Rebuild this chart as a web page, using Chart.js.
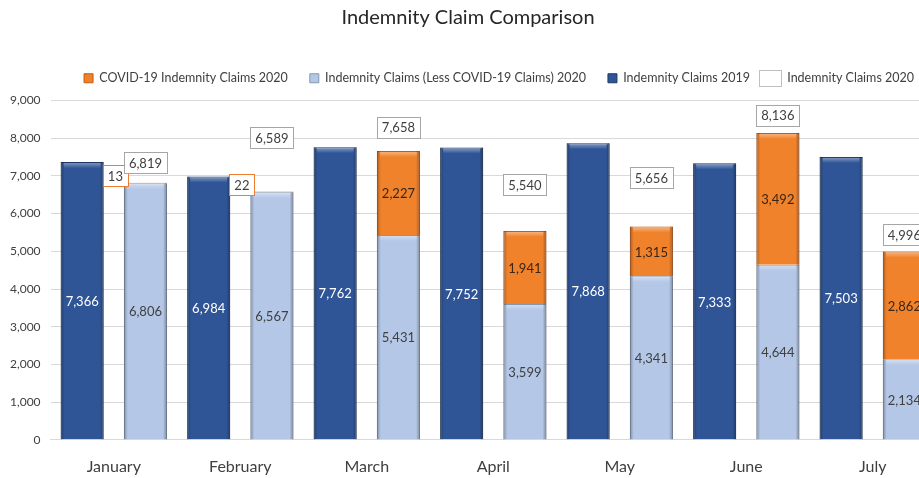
<!DOCTYPE html>
<html>
<head>
<meta charset="utf-8">
<title>Indemnity Claim Comparison</title>
<script src="https://cdn.jsdelivr.net/npm/chart.js@4.4.1/dist/chart.umd.min.js"></script>
<style>
  html, body { margin: 0; padding: 0; background: #fff; overflow: hidden; }
  #wrap { width: 919px; height: 478px; overflow: hidden; }
</style>
</head>
<body>
<div id="wrap"><canvas id="mycanvas" width="940" height="478"></canvas></div>
<script>
// chart data
var months = ['January', 'February', 'March', 'April', 'May', 'June', 'July'];
var claims2019 = [7366, 6984, 7762, 7752, 7868, 7333, 7503];
var lessCovid2020 = [6806, 6567, 5431, 3599, 4341, 4644, 2134];
var covid2020 = [13, 22, 2227, 1941, 1315, 3492, 2862];
var total2020 = [6819, 6589, 7658, 5540, 5656, 8136, 4996];
var yTicks = [0, 1000, 2000, 3000, 4000, 5000, 6000, 7000, 8000, 9000];

// how far (px) each total box sits above its bar, as placed in the original
var totalLift = [20, 54, 24, 46, 49, 18, 17];

var FONT = 'Lato, "Open Sans", sans-serif';
var LEGEND_SIZE = 12.5;

function fmt(v) {
  return Number(v).toLocaleString('en-US');
}

function boxLabel(ctx, txt, cx, cy, stroke) {
  var w = Math.round(ctx.measureText(txt).width + 10);
  var h = 21;
  var x = Math.round(cx - w / 2), y = Math.round(cy - h / 2);
  ctx.fillStyle = '#ffffff';
  ctx.fillRect(x, y, w, h);
  ctx.strokeStyle = stroke;
  ctx.lineWidth = 1;
  ctx.strokeRect(x + 0.5, y + 0.5, w, h);
  ctx.fillStyle = '#404040';
  ctx.fillText(txt, cx, cy + 1);
}

// soft bevel on every bar segment, like the office chart style
function shadeBar(ctx, bar) {
  var left = bar.x - bar.width / 2, right = bar.x + bar.width / 2;
  var h = bar.base - bar.y;
  if (h < 2) return;
  var g = ctx.createLinearGradient(left, 0, right, 0);
  g.addColorStop(0, 'rgba(0,0,0,0.28)');
  g.addColorStop(0.09, 'rgba(0,0,0,0)');
  g.addColorStop(0.91, 'rgba(0,0,0,0)');
  g.addColorStop(1, 'rgba(0,0,0,0.32)');
  ctx.fillStyle = g;
  ctx.fillRect(left, bar.y, bar.width, h);
  var tg = ctx.createLinearGradient(0, bar.y, 0, bar.y + 6);
  tg.addColorStop(0, 'rgba(255,255,255,0.45)');
  tg.addColorStop(1, 'rgba(255,255,255,0)');
  ctx.fillStyle = tg;
  ctx.fillRect(left + 3, bar.y + 1, bar.width - 6, Math.min(6, h - 1));
}

var barLabels = {
  id: 'barLabels',
  afterDatasetsDraw: function(chart) {
    var ctx = chart.ctx;
    var textColors = ['#ffffff', '#404040', '#3a2616'];
    ctx.save();

    [0, 1, 2].forEach(function(di) {
      chart.getDatasetMeta(di).data.forEach(function(bar) {
        shadeBar(ctx, bar);
      });
    });

    ctx.font = '13px ' + FONT;
    ctx.textAlign = 'center';
    ctx.textBaseline = 'middle';

    [0, 1, 2].forEach(function(di) {
      var meta = chart.getDatasetMeta(di);
      meta.data.forEach(function(bar, i) {
        var txt = fmt(chart.data.datasets[di].data[i]);
        var h = bar.base - bar.y;
        if (h < 16) {
          // too thin: boxed label just left of the bar
          var w = ctx.measureText(txt).width + 10;
          var cx = bar.x - bar.width / 2 + 4 - w / 2;
          boxLabel(ctx, txt, cx, bar.y - 7, '#ed7d31');
        } else {
          ctx.fillStyle = textColors[di];
          ctx.fillText(txt, bar.x, (bar.y + bar.base) / 2 + 1);
        }
      });
    });

    // totals in white boxes above the 2020 stack
    var top = chart.getDatasetMeta(2);
    top.data.forEach(function(bar, i) {
      boxLabel(ctx, fmt(total2020[i]), bar.x, bar.y - totalLift[i], '#a6a6a6');
    });
    ctx.restore();
  },
  afterDraw: function(chart) {
    // the totals series gets a bigger empty box in the legend
    var lg = chart.legend;
    if (!lg || !lg.legendHitBoxes || !lg.legendHitBoxes[3]) return;
    var hb = lg.legendHitBoxes[3];
    var ctx = chart.ctx;
    var textX = hb.left + 9 + LEGEND_SIZE / 2;
    var cy = hb.top + hb.height / 2;
    ctx.save();
    ctx.fillStyle = '#ffffff';
    ctx.fillRect(Math.round(textX - 28), Math.round(cy - 8), 23, 17);
    ctx.strokeStyle = '#bfbfbf';
    ctx.lineWidth = 1;
    ctx.strokeRect(Math.round(textX - 28) + 0.5, Math.round(cy - 8) + 0.5, 22, 16);
    ctx.restore();
  }
};

// a little more room under the legend
var legendSpacer = {
  id: 'legendSpacer',
  beforeInit: function(chart) {
    if (!chart.legend) return;
    var fitLegend = chart.legend.fit;
    chart.legend.fit = function() {
      fitLegend.call(this);
      this.height += 6;
    };
  }
};

var legendRank = { 2: 0, 1: 1, 0: 2, 3: 3 };

var chartdata = {
  labels: months,
  datasets: [
    {
      label: 'Indemnity Claims 2019',
      data: claims2019,
      stack: 's2019',
      backgroundColor: '#2f5597',
      borderColor: '#1f3864',
      borderWidth: 1
    },
    {
      label: 'Indemnity Claims (Less COVID-19 Claims) 2020',
      data: lessCovid2020,
      stack: 's2020',
      backgroundColor: '#b4c7e7',
      borderColor: '#8497b0',
      borderWidth: 1
    },
    {
      label: 'COVID-19 Indemnity Claims 2020',
      data: covid2020,
      stack: 's2020',
      backgroundColor: '#f0822b',
      borderColor: '#c55a11',
      borderWidth: 1
    },
    {
      type: 'line',
      label: 'Indemnity Claims 2020',
      data: total2020,
      stack: 'total',
      showLine: false,
      pointRadius: 0,
      pointHoverRadius: 0,
      backgroundColor: '#ffffff',
      borderColor: '#a6a6a6',
      borderWidth: 1
    }
  ]
};

var ctx = document.getElementById('mycanvas');

var barGraph = new Chart(ctx, {
  type: 'bar',
  data: chartdata,
  plugins: [barLabels, legendSpacer],
  options: {
    responsive: false,
    animation: false,
    barPercentage: 0.68,
    categoryPercentage: 1.0,
    layout: { padding: { left: 0, right: 4, top: 0, bottom: -15 } },
    plugins: {
      title: {
        display: true,
        text: 'Indemnity Claim Comparison',
        color: '#262626',
        font: { family: FONT, size: 20, weight: 'normal' },
        padding: { top: 6, bottom: 20 }
      },
      legend: {
        position: 'top',
        align: 'end',
        labels: {
          color: '#404040',
          font: { family: FONT, size: LEGEND_SIZE },
          boxWidth: 9,
          boxHeight: 9,
          padding: 22,
          sort: function(a, b) {
            return legendRank[a.datasetIndex] - legendRank[b.datasetIndex];
          }
        }
      },
      tooltip: { enabled: false }
    },
    scales: {
      x: {
        stacked: true,
        grid: { display: false, drawTicks: false },
        border: { color: '#d9d9d9' },
        ticks: {
          color: '#404040',
          font: { family: FONT, size: 16 },
          padding: 17
        }
      },
      y: {
        stacked: true,
        min: 0,
        max: 9000,
        afterBuildTicks: function(scale) {
          scale.ticks = yTicks.map(function(v) { return { value: v }; });
        },
        grid: { color: '#d9d9d9', drawTicks: false },
        border: { display: false },
        ticks: {
          color: '#404040',
          font: { family: FONT, size: 12 },
          padding: 10,
          callback: function(v) { return fmt(v); }
        }
      }
    }
  }
});
</script>
</body>
</html>
